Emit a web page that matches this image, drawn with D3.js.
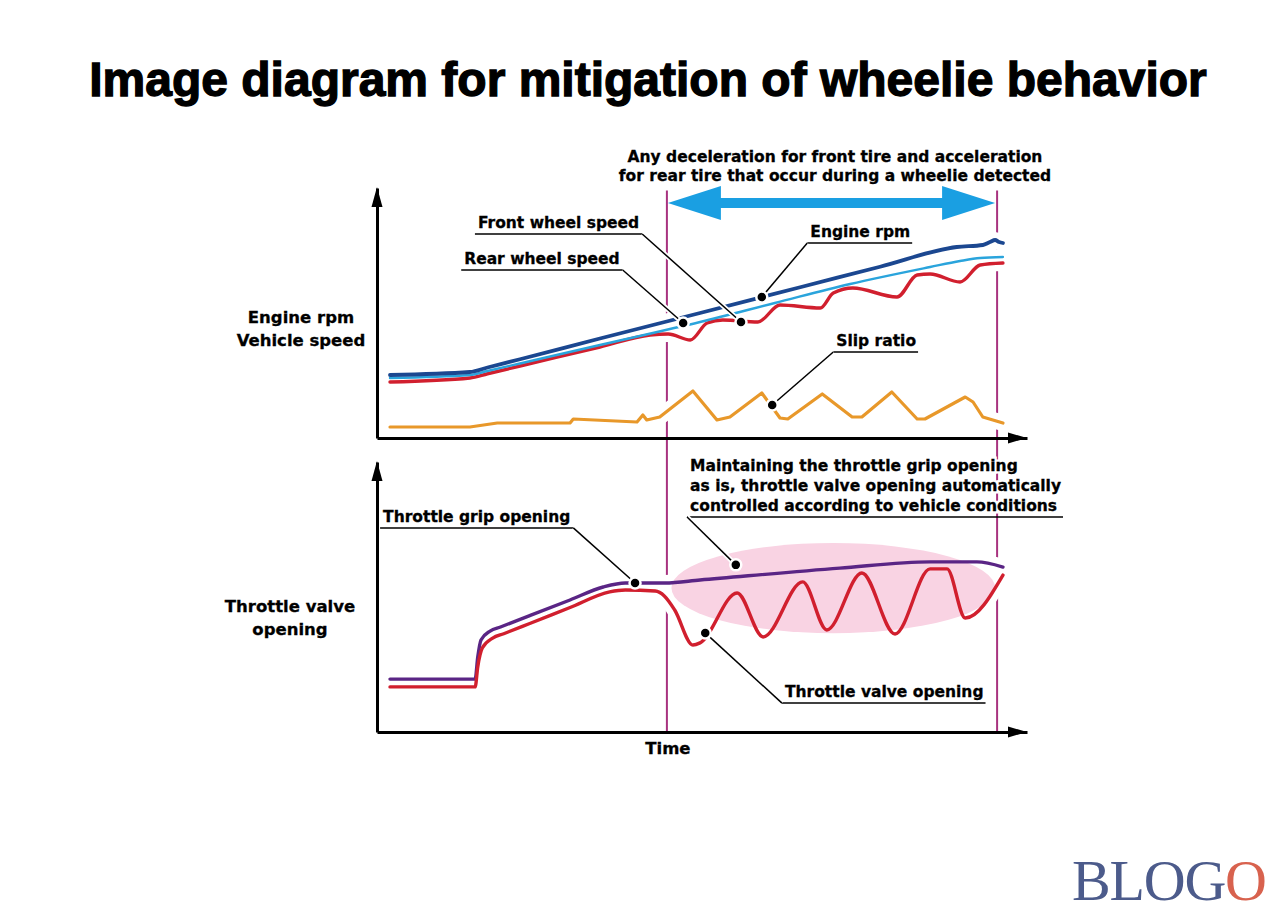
<!DOCTYPE html>
<html>
<head>
<meta charset="utf-8">
<script src="https://cdn.jsdelivr.net/npm/d3@7"></script>
<style>
  body { margin: 0; background: #fff; }
</style>
</head>
<body>
<svg width="1280" height="913"></svg>
<script>
// time of the two dashed markers (start / end of wheelie detection)
const markerTimes = [4.46, 9.54];

// upper panel: [time, value]
const engineRpm = [[0.2,25.2],[1.43,26.4],[1.7,28.2],[2.2,31.5],[3.43,39.8],[4.97,50],[6.51,60.3],[7.74,68.5],[8.92,76.4],[9.32,77.2],[9.43,78.4],[9.51,79.2],[9.57,78.4],[9.63,78]];
const frontWheel = [[0.2,24],[1.43,25.2],[1.7,26.8],[2.2,29.8],[3.43,37.2],[4.97,46.4],[6.12,54],[7.28,61.6],[8.51,68.4],[8.97,70.8],[9.28,72],[9.63,72.4]];
const rearWheel = [[0.2,22.4],[1.43,24],[1.7,25.7],[2.2,28.8],[3.43,36.4],[4.2,41.2],[4.48,41.6],[4.82,39.2],[5.08,46],[5.32,47.2],[5.86,46.4],[6.2,53.2],[6.82,52],[7.02,58],[7.32,60],[8.0,56.4],[8.31,65.2],[8.51,65.6],[8.97,62.4],[9.28,69.2],[9.63,70]];
const slipRatio = [[0.2,4.4],[1.43,4.4],[1.85,6],[2.97,6],[3.02,7.6],[4.0,6.4],[4.09,9.2],[4.15,7.2],[4.35,8.4],[4.86,18.8],[5.23,7.2],[5.43,8.4],[5.92,18],[6.2,8],[6.32,7.6],[6.85,17.6],[7.31,8.4],[7.46,8.4],[7.92,18.4],[8.31,7.6],[8.43,7.6],[9.05,16.4],[9.17,14.4],[9.32,8.4],[9.63,6]];

// lower panel: [time, value]
const gripOpening = [[0.2,19.6],[1.51,19.6],[1.55,27.8],[1.6,34.1],[1.74,37.4],[1.9,38.9],[2.35,43.1],[2.97,48.9],[3.48,53.7],[3.82,55.2],[4.43,55.2],[4.97,56.3],[7.12,60.7],[8.51,63],[9.23,63],[9.63,61.1]];
const valveOpening = [[0.2,16.7],[1.51,16.7],[1.55,24.1],[1.62,31.1],[1.78,34.8],[1.95,36.4],[2.35,40.2],[2.97,46.1],[3.58,51.9],[3.82,52.6],[4.28,52.2],[4.42,50.4],[4.58,45.2],[4.86,32.2],[4.97,33],[5.54,51.5],[5.94,35.2],[6.55,55.6],[6.92,37.8],[7.46,58.9],[7.97,36.3],[8.51,60.4],[8.77,60.4],[9.05,42.2],[9.63,58.1]];

// controlled zone: center time, center value, half-width (time), half-height (value)
const controlZone = [7.02, 53.3, 2.49, 16.7];

// call-outs: elbow of the leader, target dot, which side the text sits on
const calloutsTop = [
  {lines: ["Front wheel speed"], elbow: [4.08, 81.6], dot: [5.6, 46.4], side: "right"},
  {lines: ["Rear wheel speed"], elbow: [3.78, 67.2], dot: [4.71, 46], side: "right"},
  {lines: ["Engine rpm"], elbow: [6.62, 78], dot: [5.92, 56.4], side: "left"},
  {lines: ["Slip ratio"], elbow: [7.02, 34.4], dot: [6.08, 13.2], side: "left"}
];
const calloutsBottom = [
  {lines: ["Throttle grip opening"], elbow: [3.02, 75.6], dot: [3.97, 55.2], side: "right"},
  {lines: ["Maintaining the throttle grip opening", "as is, throttle valve opening automatically", "controlled according to vehicle conditions"], elbow: [4.77, 79.6], dot: [5.52, 61.9], side: "left"},
  {lines: ["Throttle valve opening"], elbow: [6.23, 10.7], dot: [5.05, 36.7], side: "left"}
];

const titleText = "Image diagram for mitigation of wheelie behavior";
const zoneText = ["Any deceleration for front tire and acceleration", "for rear tire that occur during a wheelie detected"];
const topAxisLabel = ["Engine rpm", "Vehicle speed"];
const bottomAxisLabel = ["Throttle valve", "opening"];
const timeLabel = "Time";

const labelFont = "'DejaVu Sans', sans-serif";

const svg = d3.select("svg");

const x = d3.scaleLinear().domain([0, 10]).range([377, 1027]);
const yTop = d3.scaleLinear().domain([0, 100]).range([438, 188]);
const yBot = d3.scaleLinear().domain([0, 100]).range([732, 462]);

// title
svg.append("text")
  .attr("x", 648).attr("y", 96)
  .attr("text-anchor", "middle")
  .style("font", "bold 48px 'Liberation Sans', Arial, sans-serif")
  .attr("stroke", "#000").attr("stroke-width", 1.3)
  .text(titleText);

// marker lines
svg.append("g").selectAll("line")
  .data(markerTimes)
  .join("line")
  .attr("x1", d => x(d)).attr("x2", d => x(d))
  .attr("y1", yTop(99)).attr("y2", yBot(0))
  .attr("stroke", "#a8327f").attr("stroke-width", 2);

// zone arrow
const ax0 = x(markerTimes[0]) + 1, ax1 = x(markerTimes[1]) - 2, ay = yTop(94);
svg.append("path")
  .attr("d", `M${ax0},${ay} L${ax0+53},${ay-17} L${ax0+53},${ay-5} L${ax1-53},${ay-5} L${ax1-53},${ay-17} L${ax1},${ay} L${ax1-53},${ay+17} L${ax1-53},${ay+5} L${ax0+53},${ay+5} L${ax0+53},${ay+17} Z`)
  .attr("fill", "#1a9fe2");

svg.append("g")
  .attr("text-anchor", "middle")
  .style("font", `bold 15.5px ${labelFont}`)
  .attr("stroke", "#000").attr("stroke-width", 0.3)
  .selectAll("text")
  .data(zoneText)
  .join("text")
  .attr("x", 835).attr("y", (d, i) => 162 + i * 19)
  .text(d => d);

// series definitions
const seriesTop = [
  {data: slipRatio, color: "#e8982a", width: 3.2, curve: d3.curveLinear},
  {data: rearWheel, color: "#d11f2e", width: 3.4, curve: d3.curveMonotoneX},
  {data: frontWheel, color: "#2aa4dc", width: 2.4, curve: d3.curveMonotoneX},
  {data: engineRpm, color: "#1b4790", width: 3.8, curve: d3.curveMonotoneX}
];
const seriesBot = [
  {data: gripOpening, color: "#5a2585", width: 3.4, curve: d3.curveMonotoneX},
  {data: valveOpening, color: "#d11f2e", width: 3.4, curve: d3.curveMonotoneX}
];

function lineFor(y, curve) {
  return d3.line().x(d => x(d[0])).y(d => y(d[1])).curve(curve);
}

// white halos so the marker lines break where curves cross
[[seriesTop, yTop], [seriesBot, yBot]].forEach(([ser, y]) => {
  svg.append("g").selectAll("path")
    .data(ser)
    .join("path")
    .attr("d", d => lineFor(y, d.curve)(d.data))
    .attr("fill", "none").attr("stroke", "#fff")
    .attr("stroke-width", 16).attr("stroke-linejoin", "round");
});

// pink zone
svg.append("ellipse")
  .attr("cx", x(controlZone[0])).attr("cy", yBot(controlZone[1]))
  .attr("rx", x(controlZone[0] + controlZone[2]) - x(controlZone[0]))
  .attr("ry", yBot(controlZone[1] - controlZone[3]) - yBot(controlZone[1]))
  .attr("fill", "#f9d3e3");

[[seriesTop, yTop], [seriesBot, yBot]].forEach(([ser, y]) => {
  svg.append("g").selectAll("path")
    .data(ser)
    .join("path")
    .attr("d", d => lineFor(y, d.curve)(d.data))
    .attr("fill", "none").attr("stroke", d => d.color)
    .attr("stroke-width", d => d.width)
    .attr("stroke-linejoin", "round").attr("stroke-linecap", "round");
});

// axes with arrow heads
function drawAxes(y) {
  svg.append("g")
    .attr("transform", `translate(${x(0)},0)`)
    .call(d3.axisLeft(y).ticks(0).tickSize(0).tickSizeOuter(0))
    .call(g => g.select(".domain").attr("stroke", "#000").attr("stroke-width", 3));
  svg.append("g")
    .attr("transform", `translate(0,${y(0)})`)
    .call(d3.axisBottom(x).ticks(0).tickSize(0).tickSizeOuter(0))
    .call(g => g.select(".domain").attr("stroke", "#000").attr("stroke-width", 3));
  const tx = x(0), ty = y.range()[1];
  svg.append("path").attr("d", `M${tx},${ty-1} L${tx-5.5},${ty+19} L${tx+5.5},${ty+19} Z`).attr("fill", "#000");
  const hx = x.range()[1], hy = y(0);
  svg.append("path").attr("d", `M${hx},${hy} L${hx-19},${hy-5.5} L${hx-19},${hy+5.5} Z`).attr("fill", "#000");
}
drawAxes(yTop);
drawAxes(yBot);

// axis titles
function stackLabel(lines, cx, y0) {
  svg.append("g")
    .attr("text-anchor", "middle")
    .style("font", `bold 16.5px ${labelFont}`)
    .attr("stroke", "#000").attr("stroke-width", 0.3)
    .selectAll("text")
    .data(lines)
    .join("text")
    .attr("x", cx).attr("y", (d, i) => y0 + i * 23)
    .text(d => d);
}
stackLabel(topAxisLabel, 301, 323);
stackLabel(bottomAxisLabel, 290, 612);
svg.append("text")
  .attr("x", x(markerTimes[0]) + 1).attr("y", 754)
  .attr("text-anchor", "middle")
  .style("font", `bold 16.5px ${labelFont}`)
  .attr("stroke", "#000").attr("stroke-width", 0.3)
  .text(timeLabel);

// call-outs
function drawCallouts(list, y) {
  list.forEach(c => {
    const ex = x(c.elbow[0]), ey = y(c.elbow[1]);
    const dx = x(c.dot[0]), dy = y(c.dot[1]);
    const g = svg.append("g");
    const n = c.lines.length;
    const rows = c.lines.map((d, i) => ({text: d, y: ey - 6 - (n - 1 - i) * 20}));
    // white halo under the text, then the text itself
    const halo = g.selectAll("text.halo")
      .data(rows)
      .join("text")
      .attr("class", "halo")
      .attr("y", d => d.y)
      .style("font", `bold 15.5px ${labelFont}`)
      .attr("fill", "#fff").attr("stroke", "#fff").attr("stroke-width", 5)
      .text(d => d.text);
    const texts = g.selectAll("text.lbl")
      .data(rows)
      .join("text")
      .attr("class", "lbl")
      .attr("y", d => d.y)
      .style("font", `bold 15.5px ${labelFont}`)
      .attr("stroke", "#000").attr("stroke-width", 0.3)
      .text(d => d.text);
    let wmax = 0;
    texts.each(function() { wmax = Math.max(wmax, this.getComputedTextLength()); });
    let ux0, ux1;
    if (c.side === "right") {
      halo.attr("x", ex - 3).attr("text-anchor", "end");
      texts.attr("x", ex - 3).attr("text-anchor", "end");
      ux0 = ex - wmax - 6; ux1 = ex;
    } else {
      halo.attr("x", ex + 3);
      texts.attr("x", ex + 3);
      ux0 = ex; ux1 = ex + wmax + 5;
    }
    g.append("path")
      .attr("d", `M${ux0},${ey} H${ux1}`)
      .attr("stroke", "#000").attr("stroke-width", 1.5);
    g.append("line")
      .attr("x1", ex).attr("y1", ey).attr("x2", dx).attr("y2", dy)
      .attr("stroke", "#fff").attr("stroke-width", 5);
    g.append("line")
      .attr("x1", ex).attr("y1", ey).attr("x2", dx).attr("y2", dy)
      .attr("stroke", "#000").attr("stroke-width", 1.5);
    g.append("circle")
      .attr("cx", dx).attr("cy", dy).attr("r", 5.5)
      .attr("fill", "#000").attr("stroke", "#fff").attr("stroke-width", 2.5);
  });
}
drawCallouts(calloutsTop, yTop);
drawCallouts(calloutsBottom, yBot);

// logo
const logo = svg.append("text")
  .attr("x", 1072).attr("y", 900)
  .style("font", "58px 'Liberation Serif', 'Times New Roman', serif")
  .attr("letter-spacing", -1.2);
logo.append("tspan").attr("fill", "#4c5b8b").text("BLOG");
logo.append("tspan").attr("fill", "#d8624e").text("O");
</script>
</body>
</html>
